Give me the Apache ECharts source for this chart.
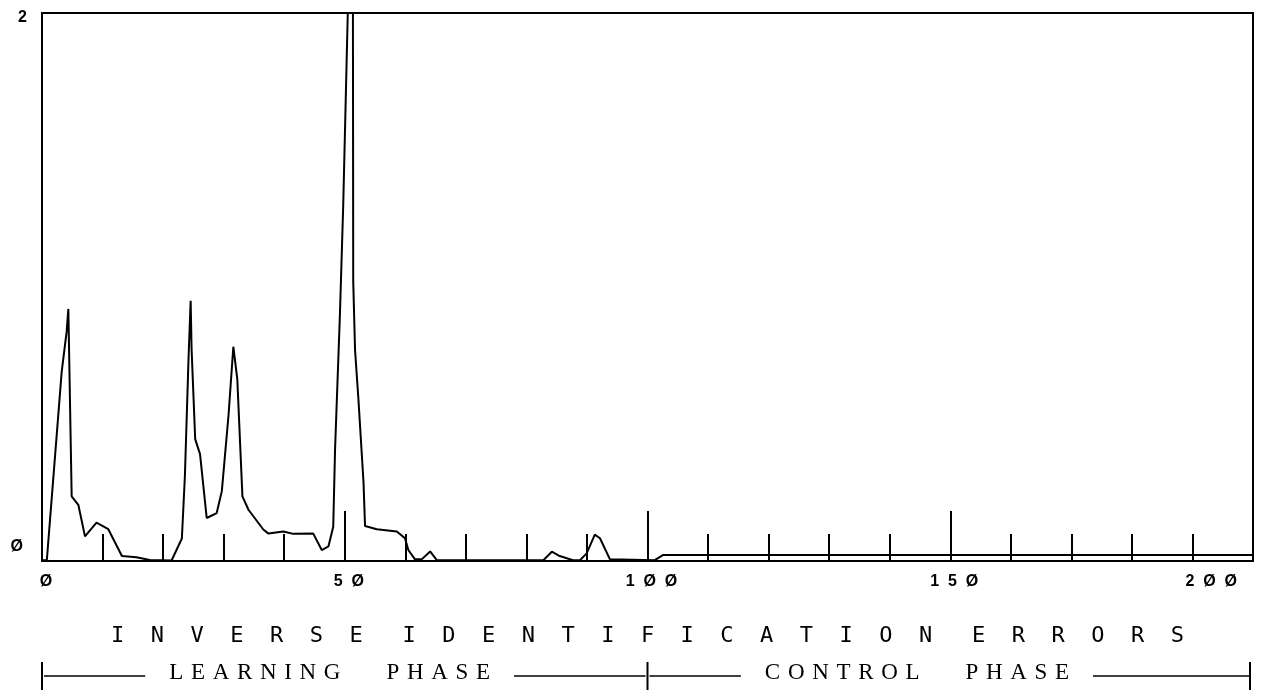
<!DOCTYPE html>
<html>
<head>
<meta charset="utf-8">
<script src="https://cdn.jsdelivr.net/npm/echarts@6/dist/echarts.min.js"></script>
<style>
html,body{margin:0;padding:0;background:#fff;}
#chart{width:1270px;height:694px;}
</style>
</head>
<body>
<div id="chart"></div>
<script>
// ---- data ----
const stepX = [0, 0.8, 3.25, 4.07, 4.35, 4.9, 6.0, 7.1, 9.0, 10.95, 13.2, 15.6, 17.8, 21.4,
  23.1, 23.6, 24.2, 24.55, 24.7, 25.3, 26.1, 27.2, 28.85, 29.7, 30.8, 31.6, 32.25, 33.1, 34.1,
  36.55, 37.4, 39.85, 41.5, 44.8, 46.2, 47.3, 48.1, 48.4, 49.2, 49.75, 50.5, 50.9, 51.35, 51.4,
  51.7, 52.25, 53.1, 53.35, 55.3, 58.6, 59.95, 60.5, 61.6, 62.7, 64.1, 65.2, 82.8, 84.2, 85.5,
  87.7, 88.85, 89.95, 91.3, 92.15, 93.8, 101.2, 102.6, 130, 160, 200];
const errorY = [0.003, 0.003, 0.69, 0.837, 0.92, 0.236, 0.205, 0.09, 0.14, 0.116, 0.018, 0.014, 0.004, 0.002,
  0.082, 0.31, 0.739, 0.95, 0.776, 0.445, 0.39, 0.157, 0.175, 0.255, 0.531, 0.782, 0.665, 0.236, 0.187,
  0.115, 0.1, 0.108, 0.099, 0.1, 0.04, 0.053, 0.125, 0.408, 0.898, 1.3, 2.0, 2.3, 2.0, 1.02,
  0.77, 0.593, 0.286, 0.128, 0.116, 0.108, 0.083, 0.04, 0.006, 0.006, 0.035, 0.003, 0.003, 0.034, 0.018,
  0.003, 0.003, 0.028, 0.096, 0.083, 0.006, 0.003, 0.022, 0.022, 0.022, 0.022];
const xTickValues = [0, 50, 100, 150, 200];
const xTickLabels = ['Ø', '5  Ø', '1  Ø  Ø', '1  5  Ø', '2  Ø  Ø'];
const yTickValues = [0, 2];
const yTickLabels = ['Ø', '2'];
const titleWords = ['INVERSE', 'IDENTIFICATION', 'ERRORS'];
const phaseBounds = [0, 100, 200];
const phaseLabels = ['LEARNING PHASE', 'CONTROL PHASE'];
const phaseLabelAt = [47.5, 144.5];

// ---- chart ----
const chart = echarts.init(document.getElementById('chart'), null, {renderer: 'canvas'});
const seriesData = stepX.map((x, i) => [x, errorY[i]]);
const labelFont = {fontFamily: 'Liberation Sans', fontWeight: 'bold', fontSize: 16, color: '#000'};

chart.setOption({
  backgroundColor: '#fff',
  animation: false,
  grid: {left: 42, right: 17, top: 13, bottom: 133, show: true, borderColor: '#000', borderWidth: 2, backgroundColor: 'transparent'},
  xAxis: {
    type: 'value', min: 0, max: 200, interval: 50,
    axisLine: {show: true, onZero: false, lineStyle: {color: '#000', width: 2}},
    axisTick: {show: true, inside: true, length: 50, lineStyle: {color: '#000', width: 2}},
    minorTick: {show: true, splitNumber: 5, length: 27, lineStyle: {color: '#000', width: 2}},
    splitLine: {show: false},
    axisLabel: Object.assign({
      margin: 13, alignMaxLabel: 'right',
      formatter: v => {
        const i = xTickValues.indexOf(v);
        if (i < 0) return '';
        return (v === 200 ? '{r|' : '{a|') + xTickLabels[i] + '}';
      },
      rich: {
        a: Object.assign({padding: [0, 0, 0, 8]}, labelFont),
        r: Object.assign({padding: [0, 16, 0, 0]}, labelFont)
      }
    }, labelFont)
  },
  yAxis: {
    type: 'value', min: 0, max: 2, interval: 2,
    axisLine: {show: true, lineStyle: {color: '#000', width: 2}},
    axisTick: {show: false},
    splitLine: {show: false},
    axisLabel: Object.assign({
      margin: 15,
      formatter: v => {
        const i = yTickValues.indexOf(v);
        if (i < 0) return '';
        return (v === 2 ? '{t|' : '{b|') + yTickLabels[i] + '}';
      },
      rich: {
        t: Object.assign({padding: [10, 0, 0, 0]}, labelFont),
        b: Object.assign({padding: [0, 4, 28, 0]}, labelFont)
      }
    }, labelFont)
  },
  series: [{
    type: 'line',
    data: seriesData,
    showSymbol: false,
    symbol: 'none',
    clip: true,
    lineStyle: {color: '#000', width: 2},
    z: 3
  }]
});

// ---- annotation below the axis (positions derived from the x scale) ----
const px = v => chart.convertToPixel({xAxisIndex: 0}, v);
const mctx = document.createElement('canvas').getContext('2d');
function textWidth(t, font) { mctx.font = font; return mctx.measureText(t).width; }

const titleText = titleWords.map(w => w.split('').join('  ')).join('   ');
const titleFont = '22px "DejaVu Sans Mono"';
const phaseFontCss = '23px "Liberation Serif"';

const graphics = [{
  type: 'text',
  x: px(100), y: 636,
  style: {text: titleText, font: titleFont, fill: '#000', align: 'center', verticalAlign: 'middle'}
}];

const lineY = 676;
const barHalf = 14;
const gap = 24;
phaseBounds.forEach(b => {
  const x = px(b) + (b === 200 ? -3 : 0);
  graphics.push({type: 'line', shape: {x1: x, y1: lineY - barHalf, x2: x, y2: lineY + barHalf},
    style: {stroke: '#000', lineWidth: 2}});
});
phaseLabels.forEach((lab, i) => {
  const txt = lab.split(' ').map(w => w.split('').join('\u2004')).join('\u2003\u2003');
  const w = textWidth(txt, phaseFontCss);
  const cx = px(phaseLabelAt[i]);
  const x0 = px(phaseBounds[i]) + 2;
  const x1 = px(phaseBounds[i + 1]) - (i === 1 ? 3 : 2);
  graphics.push({type: 'text', x: cx, y: lineY - 3,
    style: {text: txt, font: phaseFontCss, fill: '#000', align: 'center', verticalAlign: 'middle'}});
  graphics.push({type: 'line', shape: {x1: x0, y1: lineY, x2: cx - w / 2 - gap, y2: lineY},
    style: {stroke: '#000', lineWidth: 1.5}});
  graphics.push({type: 'line', shape: {x1: cx + w / 2 + gap, y1: lineY, x2: x1, y2: lineY},
    style: {stroke: '#000', lineWidth: 1.5}});
});
chart.setOption({graphic: graphics});
</script>
</body>
</html>
